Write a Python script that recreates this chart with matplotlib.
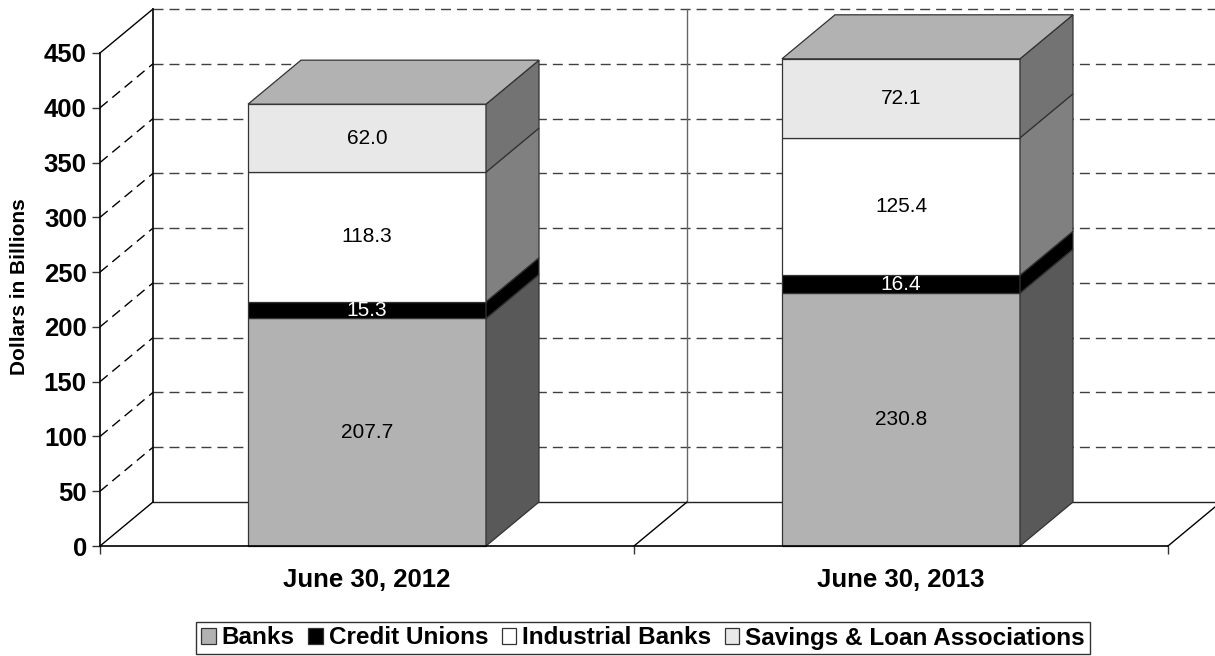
import matplotlib
matplotlib.use('Agg')
import matplotlib.pyplot as plt
from matplotlib.patches import Polygon, Rectangle

plt.rcParams['font.family'] = ['Liberation Sans', 'DejaVu Sans']

categories = ['June 30, 2012', 'June 30, 2013']
series = ['Banks', 'Credit Unions', 'Industrial Banks', 'Savings & Loan Associations']
banks = [207.7, 230.8]
credit_unions = [15.3, 16.4]
industrial_banks = [118.3, 125.4]
savings_loans = [62.0, 72.1]
yticks = [0, 50, 100, 150, 200, 250, 300, 350, 400, 450]

front_colors = ['#b2b2b2', '#000000', '#ffffff', '#e8e8e8']
side_colors = ['#595959', '#000000', '#808080', '#737373']
top_color = '#b2b2b2'
label_colors = ['black', 'white', 'black', 'black']
edge = '#333333'


def draw_bar(ax, c, bottom, height, w, dx, dy, face, side, z):
    x0, x1 = c - w / 2, c + w / 2
    top = bottom + height
    ax.add_patch(Rectangle((x0, bottom), w, height, facecolor=face,
                           edgecolor=edge, lw=0.9, zorder=z, clip_on=False))
    ax.add_patch(Polygon([(x1, bottom), (x1 + dx, bottom + dy),
                          (x1 + dx, top + dy), (x1, top)],
                         facecolor=side, edgecolor=edge, lw=0.9,
                         zorder=z, clip_on=False))


def main():
    fig = plt.figure(figsize=(12.15, 6.56), dpi=100)
    W, H = 1215.0, 656.0
    ax = fig.add_axes([100 / W, (H - 546) / H, 1068 / W, 493 / H])
    ax.set_xlim(0, 2)
    ax.set_ylim(0, 450)
    ax.patch.set_visible(False)

    # depth of the fake 3d box, in data units
    dx = 53 / 534.0
    dy = 44 / (493 / 450.0)
    dash = (0, (7.2, 4.3))

    # back wall gridlines and side wall diagonals
    for v in yticks:
        if v == 0:
            ax.plot([dx, 2 + dx], [dy, dy], color='#222222', lw=1, zorder=1, clip_on=False)
            ax.plot([0, dx], [0, dy], color='black', lw=1, zorder=1, clip_on=False)
        else:
            ax.plot([dx, 2 + dx], [v + dy, v + dy], color='#404040', lw=1,
                    linestyle=dash, zorder=1, clip_on=False)
            ls = '-' if v == 450 else dash
            ax.plot([0, dx], [v, v + dy], color='black', lw=1, linestyle=ls,
                    zorder=1, clip_on=False)
    ax.plot([dx, dx], [dy, 450 + dy], color='black', lw=1.2, zorder=1, clip_on=False)
    ax.plot([1 + dx, 1 + dx], [dy, 450 + dy], color='#666666', lw=1, zorder=1, clip_on=False)
    ax.plot([1, 1 + dx], [0, dy], color='black', lw=1, zorder=1, clip_on=False)
    ax.plot([2, 2 + dx], [0, dy], color='black', lw=1, zorder=1, clip_on=False)
    ax.plot([2 + dx, 2 + dx], [dy, 450 + dy], color='#666666', lw=1, zorder=1, clip_on=False)

    # stacked bars
    w = 238 / 534.0
    stacks = [banks, credit_unions, industrial_banks, savings_loans]
    for i, cat in enumerate(categories):
        c = i + 0.5
        bottom = 0
        for k, vals in enumerate(stacks):
            v = vals[i]
            draw_bar(ax, c, bottom, v, w, dx, dy, front_colors[k], side_colors[k], 3)
            ax.text(c, bottom + v / 2, '%.1f' % v, ha='center', va='center',
                    fontsize=15, color=label_colors[k], zorder=5)
            bottom += v
        x0 = c - w / 2
        ax.add_patch(Polygon([(x0, bottom), (x0 + w, bottom),
                              (x0 + w + dx, bottom + dy), (x0 + dx, bottom + dy)],
                             facecolor=top_color, edgecolor=edge, lw=0.9,
                             zorder=3, clip_on=False))

    # axes
    for s in ['top', 'right']:
        ax.spines[s].set_visible(False)
    ax.spines['left'].set_linewidth(1.2)
    ax.spines['bottom'].set_linewidth(1.2)
    ax.spines['left'].set_zorder(4)
    ax.spines['bottom'].set_zorder(4)
    ax.set_yticks(yticks)
    ax.set_yticklabels([str(t) for t in yticks], fontsize=18.5, fontweight='bold')
    ax.tick_params(axis='y', direction='out', length=6, width=1, pad=3.5, color='#333333')
    ax.set_xticks([0, 1, 2])
    ax.set_xticklabels(['', '', ''])
    ax.tick_params(axis='x', which='major', direction='out', length=6, width=1, color='#333333')
    ax.set_xticks([0.5, 1.5], minor=True)
    ax.set_xticklabels(categories, minor=True, fontsize=18.5, fontweight='bold')
    ax.tick_params(axis='x', which='minor', length=0, pad=15.5)

    fig.text(20 / W, 1 - 287 / H, 'Dollars in Billions', rotation=90,
             ha='center', va='center', fontsize=15, fontweight='bold')

    handles = [Rectangle((0, 0), 1, 1, facecolor=front_colors[k], edgecolor=edge, lw=0.9)
               for k in range(4)]
    leg = fig.legend(handles, series, loc='center', ncol=4,
                     bbox_to_anchor=(643 / W, 1 - 638 / H),
                     prop={'size': 17.5, 'weight': 'bold'},
                     frameon=True, fancybox=False, handlelength=0.6,
                     handleheight=0.6, handletextpad=0.25, columnspacing=0.55,
                     borderpad=0.2, borderaxespad=0)
    leg.get_frame().set_edgecolor('black')
    leg.get_frame().set_linewidth(1)

    fig.savefig('out.png', dpi=100)


if __name__ == '__main__':
    main()
